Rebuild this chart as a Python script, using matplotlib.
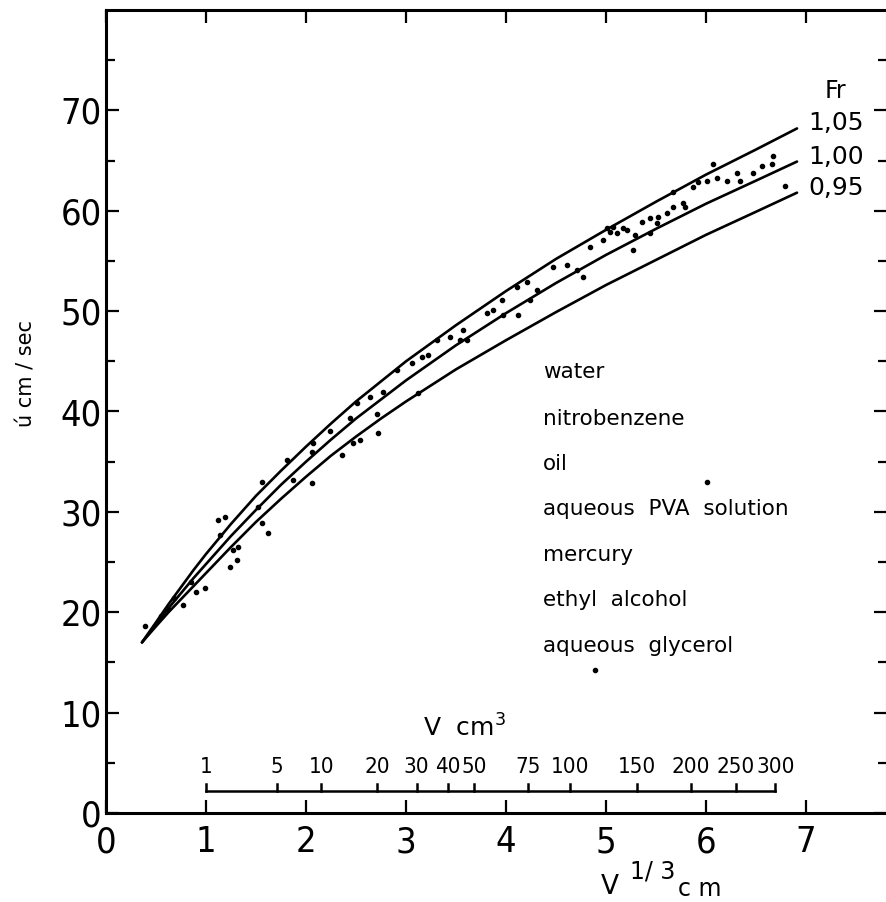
import matplotlib
matplotlib.use("Agg")
import matplotlib.pyplot as plt
from matplotlib import font_manager as fm

# ---- data -------------------------------------------------------------
# V^(1/3) in cm along the Froude-number curves
x_curve = [0.36, 0.5, 0.625, 0.75, 0.875, 1.0, 1.25, 1.5, 1.75, 2.0, 2.25, 2.5, 2.75, 3.0,
           3.5, 4.0, 4.5, 5.0, 5.5, 6.0, 6.5, 6.91]
# rise velocity u (cm/sec) for Fr = 1.05, 1.00, 0.95
u_fr105 = [17.0, 19.0, 20.8, 22.5, 24.2, 25.8, 28.8, 31.6, 34.1, 36.5, 38.8, 41.0, 43.0, 45.0,
           48.6, 52.0, 55.2, 58.1, 60.9, 63.6, 66.1, 68.2]
u_fr100 = [17.0, 18.8, 20.4, 21.9, 23.4, 24.8, 27.6, 30.2, 32.7, 35.0, 37.2, 39.3, 41.2, 43.1,
           46.6, 49.8, 52.8, 55.6, 58.2, 60.7, 63.0, 64.9]
u_fr095 = [17.0, 18.6, 20.0, 21.3, 22.6, 23.9, 26.5, 29.0, 31.3, 33.5, 35.6, 37.5, 39.3, 41.0,
           44.2, 47.1, 49.9, 52.6, 55.1, 57.6, 59.9, 61.8]
fr_labels = ["1,05", "1,00", "0,95"]

# measured bubbles (all liquids)
x_obs = [0.39, 0.55, 0.62, 0.68, 0.77, 0.85, 0.90, 0.99, 1.12, 1.19, 1.14, 1.24, 1.31, 1.27,
         1.32, 1.56, 1.62, 1.56, 1.52, 1.81, 2.06, 1.87, 2.07, 2.06, 2.24, 2.36, 2.44, 2.47,
         2.51, 2.64, 2.77, 2.71, 2.72, 2.54, 2.91, 3.06, 3.12, 3.16, 3.22, 3.31, 3.44, 3.57,
         3.54, 3.61, 3.81, 3.87, 3.96, 3.97, 4.12, 4.11, 4.21, 4.31, 4.24, 4.47, 4.61, 4.71,
         4.77, 4.84, 4.97, 5.11, 5.21, 5.27, 5.01, 5.07, 5.44, 5.51, 5.61, 5.67, 5.77, 5.04,
         5.17, 5.29, 5.36, 5.44, 5.52, 5.67, 5.79, 5.87, 5.92, 6.01, 6.07, 6.11, 6.21, 6.31,
         6.34, 6.47, 6.56, 6.67, 6.66, 6.79, 6.01, 4.89]
u_obs = [18.6, 19.6, 20.3, 21.4, 20.7, 23.0, 22.0, 22.4, 29.2, 29.5, 27.7, 24.5, 25.2, 26.2,
         26.5, 33.0, 27.9, 28.9, 30.5, 35.2, 32.9, 33.2, 36.9, 36.0, 38.1, 35.7, 39.4, 36.9,
         40.8, 41.4, 41.9, 39.8, 37.9, 37.2, 44.1, 44.8, 41.8, 45.4, 45.6, 47.1, 47.4, 48.1,
         47.1, 47.1, 49.8, 50.1, 51.1, 49.6, 49.6, 52.4, 52.9, 52.1, 51.1, 54.4, 54.6, 54.1,
         53.4, 56.4, 57.1, 57.8, 58.1, 56.1, 58.3, 58.4, 57.8, 58.8, 59.8, 60.4, 60.8, 57.9,
         58.3, 57.6, 58.9, 59.3, 59.4, 61.9, 60.4, 62.4, 62.9, 63.0, 64.7, 63.3, 63.0, 63.8,
         63.0, 63.8, 64.5, 65.5, 64.7, 62.5, 33.0, 14.2]

liquids = ["water", "nitrobenzene", "oil", "aqueous  PVA  solution", "mercury",
           "ethyl  alcohol", "aqueous  glycerol"]
liquid_y = [43.9, 39.3, 34.8, 30.3, 25.7, 21.2, 16.6]

# bubble volume scale, V in cm^3
vol_ticks = [1, 5, 10, 20, 30, 40, 50, 75, 100, 150, 200, 250, 300]
x_ticks = [0, 1, 2, 3, 4, 5, 6, 7]
y_ticks = [0, 10, 20, 30, 40, 50, 60, 70]

# ---- fonts ------------------------------------------------------------
names = {f.name for f in fm.fontManager.ttflist}
if "Liberation Sans Narrow" in names:
    num_font = dict(family="Liberation Sans Narrow")
else:
    num_font = dict(family="DejaVu Sans", stretch="condensed")
word_font = dict(family="DejaVu Sans")

# ---- figure -----------------------------------------------------------
W, H = 887, 902
fig = plt.figure(figsize=(W / 100, H / 100), dpi=100)
ax = fig.add_axes([106 / W, 1 - 813 / H, (886.5 - 106) / W, (813 - 10) / H])
ax.set_xlim(0, 7.805)
ax.set_ylim(0, 80)

for sp in ax.spines.values():
    sp.set_linewidth(2.2)

ax.set_xticks(x_ticks)
ax.set_yticks(y_ticks)
ax.set_yticks([5, 15, 25, 35, 45, 55, 65, 75], minor=True)
ax.tick_params(which="major", direction="in", length=9.5, width=1.6,
               top=True, right=True, labeltop=False, labelright=False)
ax.tick_params(which="minor", direction="in", length=6.5, width=1.6,
               right=True, left=True)
ax.tick_params(axis="x", pad=9)
ax.tick_params(axis="y", pad=3)
for lab in ax.get_xticklabels() + ax.get_yticklabels():
    lab.set_fontproperties(fm.FontProperties(size=26, **num_font))

# Froude-number curves
for u in (u_fr105, u_fr100, u_fr095):
    ax.plot(x_curve, u, color="black", lw=1.9, solid_capstyle="round",
            solid_joinstyle="round")

for lab, u in zip(fr_labels, (u_fr105, u_fr100, u_fr095)):
    ax.text(7.02, u[-1] + 0.5, lab, fontsize=18, va="center", ha="left", **word_font)
ax.text(7.29, 71.9, "Fr", fontsize=17, va="center", ha="center", **word_font)

# measurements
ax.plot(x_obs, u_obs, ls="none", marker="o", ms=3.0, color="black")

# liquid list
for name, yy in zip(liquids, liquid_y):
    ax.text(4.37, yy, name, fontsize=15.5, va="center", ha="left", **word_font)

# V cm^3 scale drawn inside the axes
vol_pos = [v ** (1 / 3) for v in vol_ticks]
ax.plot([vol_pos[0], vol_pos[-1]], [2.2, 2.2], color="black", lw=1.8)
for p, v in zip(vol_pos, vol_ticks):
    ax.plot([p, p], [2.2, 2.9], color="black", lw=1.8)
    ax.text(p, 4.6, str(v), fontsize=16, ha="center", va="center", **num_font)
ax.text(3.17, 8.5, "V  cm$^3$", fontsize=18, ha="left", va="center", **word_font)

# axis titles
ax.text(4.95, -7.4, "V", fontsize=19, ha="left", va="center", clip_on=False, **word_font)
ax.text(5.24, -5.8, "1/ 3", fontsize=17, ha="left", va="center", clip_on=False, **word_font)
ax.text(5.72, -7.6, "c m", fontsize=17, ha="left", va="center", clip_on=False, **word_font)
fig.text(27 / W, 1 - 374 / H, "ú cm / sec", rotation=90, fontsize=15,
         ha="center", va="center", **word_font)

fig.savefig("out.png", dpi=100, facecolor="white")
